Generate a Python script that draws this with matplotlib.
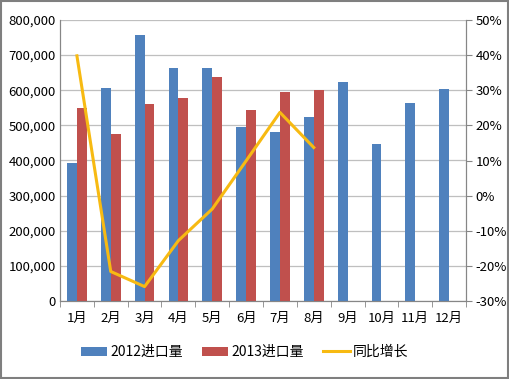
import numpy as np
import matplotlib.pyplot as plt
from matplotlib.ticker import FuncFormatter
from matplotlib.patches import Rectangle

plt.rcParams['font.family'] = ['Noto Sans CJK SC', 'DejaVu Sans']

months = ['1月', '2月', '3月', '4月', '5月', '6月', '7月', '8月', '9月', '10月', '11月', '12月']
imp_2012 = [393000, 606000, 757000, 663000, 662000, 495000, 481000, 524000, 623000, 447000, 564000, 603000]
imp_2013 = [549000, 475000, 561000, 578000, 638000, 544000, 595000, 601000]
growth = [0.398, -0.216, -0.259, -0.128, -0.038, 0.099, 0.237, 0.137]

fig = plt.figure(figsize=(5.09, 3.79), dpi=100)
ax = fig.add_axes([60 / 509, 1 - 301 / 379, 406 / 509, 281 / 379])
ax2 = ax.twinx()

ind = np.arange(len(months))
width = 0.29
ax.bar(ind - width / 2, imp_2012, width, color='#4F81BD', label='2012进口量', zorder=3)
ax.bar(ind[:len(imp_2013)] + width / 2, imp_2013, width, color='#C0504D', label='2013进口量', zorder=3)
ax2.plot(ind[:len(growth)], growth, color='#F7BA12', lw=2.2, label='同比增长')

ax.set_xlim(-0.5, 11.5)
ax.set_ylim(0, 800000)
ax.set_yticks(np.arange(0, 800001, 100000))
ax.yaxis.set_major_formatter(FuncFormatter(lambda v, p: '{:,.0f}'.format(v)))
ax2.set_ylim(-0.3, 0.5)
ax2.set_yticks(np.arange(-0.3, 0.51, 0.1))
ax2.yaxis.set_major_formatter(FuncFormatter(lambda v, p: '{:.0f}%'.format(v * 100)))

ax.set_xticks(ind)
ax.set_xticklabels(months)
ax.set_xticks(np.arange(-0.5, 12, 1), minor=True)
ax.tick_params(axis='x', which='major', length=0, pad=8, labelsize=9.5)
ax.tick_params(axis='x', which='minor', length=4, color='#868686')
ax.tick_params(axis='y', length=0, labelsize=9.5, pad=3)
ax2.tick_params(axis='y', length=4, color='#868686', labelsize=9.5, pad=3)

ax.grid(axis='y', color='#BFBFBF', lw=0.9, zorder=0)
for a in (ax, ax2):
    a.spines['top'].set_visible(False)
    a.spines['left'].set_color('#868686')
    a.spines['right'].set_color('#868686')
    a.spines['bottom'].set_color('#868686')

h1, l1 = ax.get_legend_handles_labels()
h2, l2 = ax2.get_legend_handles_labels()
fig.legend(h1 + h2, l1 + l2, loc='center', bbox_to_anchor=(0.48, 1 - 352 / 379), ncol=3,
           frameon=False, fontsize=10, handlelength=1.9, handleheight=0.6, columnspacing=1.4,
           handletextpad=0.2)

fig.patches.append(Rectangle((0.002, 0.003), 0.996, 0.994, transform=fig.transFigure,
                             fill=False, edgecolor='#7F7F7F', lw=1.5))

fig.savefig('out.png', dpi=100)
